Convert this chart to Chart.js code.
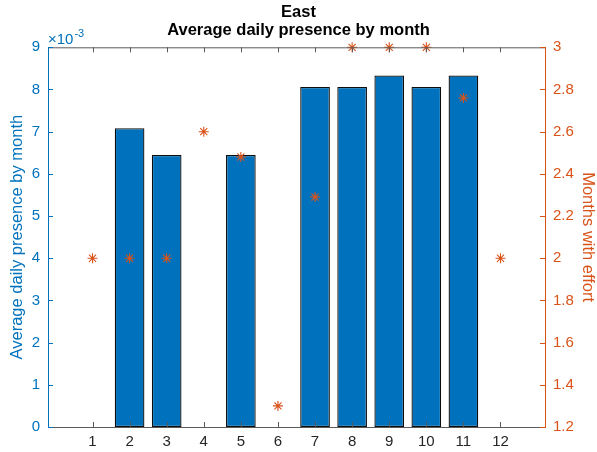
<!DOCTYPE html>
<html lang="en">
<head>
<meta charset="UTF-8">
<title>East - Average daily presence by month</title>
<script src="https://cdn.jsdelivr.net/npm/chart.js"></script>
<style>
  body { margin: 0; background: #fff; }
  .wrap { width: 597px; height: 452px; }
</style>
</head>
<body>
<div class="wrap"><canvas id="chart" width="597" height="452"></canvas></div>
<script>
const months = [1, 2, 3, 4, 5, 6, 7, 8, 9, 10, 11, 12];
const presence = [null, 0.00708, 0.00645, null, 0.00645, null, 0.00806, 0.00806, 0.00833, 0.00806, 0.00833, null];
const effort = [2, 2, 2, 2.6, 2.48, 1.3, 2.29, 3, 3, 3, 2.76, 2];
const leftTicks = [0, 1, 2, 3, 4, 5, 6, 7, 8, 9];
const rightTicks = [1.2, 1.4, 1.6, 1.8, 2, 2.2, 2.4, 2.6, 2.8, 3];

const blue = '#0072BD';
const orange = '#D95319';
const axisGray = '#5a5a5a';
const font = '"Liberation Sans", Arial, sans-serif';

// MATLAB-like inward ticks, top box edge and the x10^-3 exponent label
const matlabAxes = {
  id: 'matlabAxes',
  afterDraw(chart) {
    const ctx = chart.ctx;
    const a = chart.chartArea;
    const sx = chart.scales.x, sy = chart.scales.y, sy2 = chart.scales.y2;
    const len = 5;
    ctx.save();
    ctx.lineWidth = 1;
    ctx.strokeStyle = axisGray;
    ctx.beginPath();
    ctx.moveTo(a.left, a.top + 0.5);
    ctx.lineTo(a.right, a.top + 0.5);
    months.forEach(m => {
      const px = Math.round(sx.getPixelForValue(m)) + 0.5;
      ctx.moveTo(px, a.bottom);
      ctx.lineTo(px, a.bottom - len);
      ctx.moveTo(px, a.top);
      ctx.lineTo(px, a.top + len);
    });
    ctx.stroke();

    ctx.strokeStyle = blue;
    ctx.beginPath();
    leftTicks.forEach(v => {
      const py = Math.round(sy.getPixelForValue(v / 1000)) + 0.5;
      ctx.moveTo(a.left, py);
      ctx.lineTo(a.left + len, py);
    });
    ctx.stroke();

    ctx.strokeStyle = orange;
    ctx.beginPath();
    rightTicks.forEach(v => {
      const py = Math.round(sy2.getPixelForValue(v)) + 0.5;
      ctx.moveTo(a.right, py);
      ctx.lineTo(a.right - len, py);
    });
    ctx.stroke();

    ctx.fillStyle = blue;
    ctx.textBaseline = 'alphabetic';
    ctx.textAlign = 'left';
    ctx.font = '15px ' + font;
    ctx.fillText('\u00d710', a.left, a.top - 3);
    const w = ctx.measureText('\u00d710').width;
    ctx.font = '11px ' + font;
    ctx.fillText('-3', a.left + w + 1, a.top - 10);
    ctx.restore();
  }
};

new Chart(document.getElementById('chart'), {
  type: 'bar',
  data: {
    datasets: [
      {
        type: 'scatter',
        data: months.map((m, i) => ({ x: m, y: effort[i] })),
        yAxisID: 'y2',
        xAxisID: 'x',
        pointStyle: 'star',
        radius: 5,
        borderColor: orange,
        backgroundColor: orange,
        borderWidth: 1.1,
        showLine: false,
        clip: false,
        order: 0
      },
      {
        type: 'bar',
        data: months.map((m, i) => ({ x: m, y: presence[i] })),
        yAxisID: 'y',
        xAxisID: 'x',
        backgroundColor: blue,
        borderColor: '#0d0d0d',
        borderWidth: 1.3,
        borderSkipped: false,
        barPercentage: 0.8,
        categoryPercentage: 1,
        order: 1
      }
    ]
  },
  options: {
    responsive: false,
    animation: false,
    layout: { padding: 0 },
    plugins: {
      legend: { display: false },
      tooltip: { enabled: false },
      title: {
        display: true,
        text: ['East', 'Average daily presence by month'],
        color: '#000',
        font: { family: font, size: 16.5, weight: 'bold', lineHeight: 1.1 },
        padding: { top: 3, bottom: 8 }
      }
    },
    scales: {
      x: {
        type: 'linear',
        offset: false,
        min: -0.2,
        max: 13.2,
        afterBuildTicks: s => { s.ticks = months.map(v => ({ value: v })); },
        afterFit: s => { s.height = 25; },
        grid: { display: false, drawTicks: false },
        border: { display: true, color: axisGray },
        ticks: { color: '#262626', font: { family: font, size: 15 }, padding: 6, maxRotation: 0 }
      },
      y: {
        position: 'left',
        min: 0,
        max: 0.009,
        afterBuildTicks: s => { s.ticks = leftTicks.map(v => ({ value: v / 1000 })); },
        afterFit: s => { s.width = 48; },
        grid: { display: false, drawTicks: false },
        border: { display: true, color: blue },
        ticks: {
          color: blue,
          font: { family: font, size: 15 },
          padding: 8,
          callback: v => String(Math.round(v * 1000))
        },
        title: {
          display: true,
          text: 'Average daily presence by month',
          color: blue,
          font: { family: font, size: 16.5, lineHeight: 1.1 },
          padding: { top: 8, bottom: 0 }
        }
      },
      y2: {
        position: 'right',
        min: 1.2,
        max: 3,
        afterBuildTicks: s => { s.ticks = rightTicks.map(v => ({ value: v })); },
        afterFit: s => { s.width = 52; },
        grid: { display: false, drawTicks: false },
        border: { display: true, color: orange },
        ticks: {
          color: orange,
          font: { family: font, size: 15 },
          padding: 8,
          callback: v => String(Number(v.toFixed(1)))
        },
        title: {
          display: true,
          text: 'Months with effort',
          color: orange,
          font: { family: font, size: 16.5, lineHeight: 1.1 },
          padding: { top: 0, bottom: 0 }
        }
      }
    }
  },
  plugins: [matlabAxes]
});
</script>
</body>
</html>
